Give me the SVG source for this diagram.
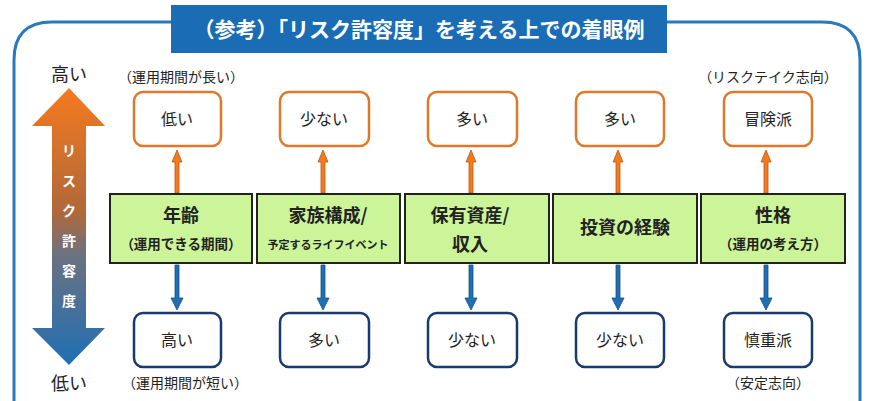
<svg xmlns="http://www.w3.org/2000/svg" width="870" height="401" viewBox="0 0 870 401">
<defs>
<linearGradient id="g" x1="0" y1="0" x2="0" y2="1">
<stop offset="0" stop-color="#f47a1f"/><stop offset="0.45" stop-color="#b0683a"/><stop offset="0.6" stop-color="#6c7280"/><stop offset="1" stop-color="#1f6fb5"/>
</linearGradient>
</defs>
<style>
text{font-family:"Noto Sans CJK JP","Noto Sans",sans-serif;fill:#222;text-anchor:middle}
.g{fill:#ccf59a;stroke:#222;stroke-width:2}
.o{fill:#fff;stroke:#e0782a;stroke-width:2.5}
.b{fill:#fff;stroke:#1a3a6e;stroke-width:2.5}
.h{font-size:18px;font-weight:bold}
.s{font-size:13.5px;font-weight:bold}
.v{font-size:16px}
.a{font-size:18px}
.n{font-size:14px}
.ua{fill:#f47a1f;stroke:#b85a14;stroke-width:0.8}
.da{fill:#1f6fb5;stroke:#174f85;stroke-width:0.8}
</style>
<rect width="870" height="401" fill="#fff"/>
<path d="M14 420 V60 Q14 22 52 22 H822 Q860 22 860 60 V420" fill="none" stroke="#2a79b9" stroke-width="3"/>
<g id="title"><rect x="171" y="5" width="496" height="48" fill="#1a6db5"/>
<text x="419" y="37" style="font-size:21px;font-weight:bold;fill:#fff">（参考）「リスク許容度」を考える上での着眼例</text></g>
<g id="axis">
<path d="M69 88 L105 126 H86 V328 H105 L69 365 L32 328 H52 V126 H32 Z" fill="url(#g)"/>
<text x="69" y="81" class="a">高い</text>
<text x="69" y="390" class="a">低い</text>
<g style="font-size:14px;font-weight:bold"><text x="69" y="156" style="fill:#fff">リ</text><text x="69" y="186" style="fill:#fff">ス</text><text x="69" y="216" style="fill:#fff">ク</text><text x="69" y="246" style="fill:#fff">許</text><text x="69" y="276" style="fill:#fff">容</text><text x="69" y="306" style="fill:#fff">度</text></g>
</g>
<text x="181" y="82" class="n">（運用期間が長い）</text>
<text x="768" y="82" class="n">（リスクテイク志向）</text>
<text x="185" y="388" class="n">（運用期間が短い）</text>
<text x="768" y="388" class="n">（安定志向）</text>
<g id="connectors">
<path class="ua" d="M175 193 V162 H172 L177 150 L182 162 H179 V193 Z"/>
<path class="ua" d="M321 193 V162 H318 L323 150 L328 162 H325 V193 Z"/>
<path class="ua" d="M469 193 V162 H466 L471 150 L476 162 H473 V193 Z"/>
<path class="ua" d="M616 193 V162 H613 L618 150 L623 162 H620 V193 Z"/>
<path class="ua" d="M764 193 V162 H761 L766 150 L771 162 H768 V193 Z"/>
<path class="da" d="M175 265 V298 H171 L177 310 L183 298 H179 V265 Z"/>
<path class="da" d="M321 265 V298 H317 L323 310 L329 298 H325 V265 Z"/>
<path class="da" d="M469 265 V298 H465 L471 310 L477 298 H473 V265 Z"/>
<path class="da" d="M616 265 V298 H612 L618 310 L624 298 H620 V265 Z"/>
<path class="da" d="M764 265 V298 H760 L766 310 L772 298 H768 V265 Z"/>
</g>
<g id="n1"><rect class="g" x="110" y="194" width="142" height="69"/><text x="181" y="222" class="h">年齢</text><text x="181" y="249" class="s">（運用できる期間）</text></g>
<g id="n2"><rect class="g" x="257" y="194" width="143" height="69"/><text x="328" y="222" class="h">家族構成/</text><text x="328" y="249" style="font-size:11px;font-weight:bold">予定するライフイベント</text></g>
<g id="n3"><rect class="g" x="405" y="194" width="144" height="69"/><text x="470" y="222" class="h">保有資産/</text><text x="470" y="251" class="h">収入</text></g>
<g id="n4"><rect class="g" x="553" y="194" width="144" height="69"/><text x="625" y="234" class="h">投資の経験</text></g>
<g id="n5"><rect class="g" x="701" y="194" width="144" height="69"/><text x="773" y="222" class="h">性格</text><text x="773" y="249" class="s">（運用の考え方）</text></g>
<g id="t1"><rect class="o" x="134" y="92" width="87" height="54" rx="9"/><text x="177" y="125" class="v">低い</text></g>
<g id="t2"><rect class="o" x="280" y="92" width="89" height="54" rx="9"/><text x="324" y="125" class="v">少ない</text></g>
<g id="t3"><rect class="o" x="428" y="92" width="89" height="54" rx="9"/><text x="472" y="125" class="v">多い</text></g>
<g id="t4"><rect class="o" x="576" y="92" width="88" height="54" rx="9"/><text x="620" y="125" class="v">多い</text></g>
<g id="t5"><rect class="o" x="724" y="92" width="88" height="54" rx="9"/><text x="768" y="125" class="v">冒険派</text></g>
<g id="b1"><rect class="b" x="134" y="313" width="87" height="54" rx="9"/><text x="177" y="346" class="v">高い</text></g>
<g id="b2"><rect class="b" x="280" y="313" width="89" height="54" rx="9"/><text x="324" y="346" class="v">多い</text></g>
<g id="b3"><rect class="b" x="428" y="313" width="89" height="54" rx="9"/><text x="472" y="346" class="v">少ない</text></g>
<g id="b4"><rect class="b" x="576" y="313" width="88" height="54" rx="9"/><text x="620" y="346" class="v">少ない</text></g>
<g id="b5"><rect class="b" x="724" y="313" width="88" height="54" rx="9"/><text x="768" y="346" class="v">慎重派</text></g>
</svg>
